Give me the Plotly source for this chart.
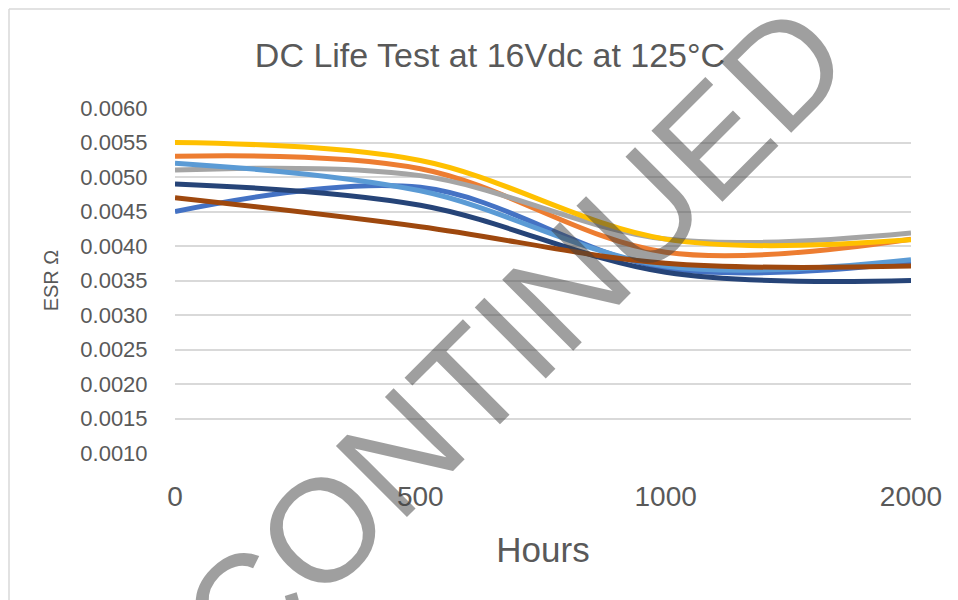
import plotly.graph_objects as go

hours = ["0", "500", "1000", "2000"]

series_blue = [0.00450, 0.00485, 0.00368, 0.00376]
series_orange = [0.00530, 0.00512, 0.00391, 0.00410]
series_gray = [0.00510, 0.00502, 0.00410, 0.00419]
series_gold = [0.00550, 0.00524, 0.00410, 0.00409]
series_lightblue = [0.00520, 0.00480, 0.00371, 0.00380]
series_darkblue = [0.00490, 0.00459, 0.00362, 0.00350]
series_brown = [0.00470, 0.00428, 0.00375, 0.00371]

series = [
    ("Sample 1", series_blue, "#4472C4"),
    ("Sample 2", series_orange, "#ED7D31"),
    ("Sample 3", series_gray, "#A5A5A5"),
    ("Sample 4", series_gold, "#FFC000"),
    ("Sample 5", series_lightblue, "#5B9BD5"),
    ("Sample 6", series_darkblue, "#264478"),
    ("Sample 7", series_brown, "#9E480E"),
]

W, H = 958, 600
OFF = 8  # page body margin offset
ML, MT = 175 - OFF, 108 - OFF
PW, PH = 736, 345
MR = W - ML - PW
MB = H - MT - PH


def px_x(p):
    return (p - OFF - ML) / PW


def px_y(p):
    return (H - MB - (p - OFF)) / PH


fig = go.Figure()
for name, vals, col in series:
    fig.add_trace(go.Scatter(
        x=hours, y=vals, name=name, mode="lines",
        line=dict(color=col, width=5, shape="spline", smoothing=1.0),
        showlegend=False,
    ))

font_family = "Liberation Sans, Arial, sans-serif"
txt_col = "#595959"
border = dict(color="#D9D9D9", width=1.5)

fig.update_layout(
    width=W, height=H,
    margin=dict(l=ML, r=MR, t=MT, b=MB),
    paper_bgcolor="white", plot_bgcolor="white",
    font=dict(family=font_family, color=txt_col),
    title=dict(text="DC Life Test at 16Vdc at 125°C", xref="container",
               x=(490 - OFF) / W, xanchor="center",
               yref="container", y=1 - (55 - OFF) / H, yanchor="middle",
               font=dict(size=34, color=txt_col, family=font_family)),
    xaxis=dict(type="category", range=[0, 3], showgrid=False, zeroline=False, showline=False,
               ticks="outside", ticklen=18, tickcolor="rgba(0,0,0,0)",
               tickfont=dict(size=28, color=txt_col),
               title=dict(text="Hours", font=dict(size=35, color=txt_col), standoff=26)),
    yaxis=dict(range=[0.001, 0.006], dtick=0.0005, tick0=0.001, tickformat=".4f",
               showgrid=True, gridcolor="#D9D9D9", gridwidth=1.5,
               zeroline=False, showline=False,
               ticks="outside", ticklen=22, tickcolor="rgba(0,0,0,0)",
               tickfont=dict(size=22, color=txt_col),
               title=dict(text="ESR Ω", font=dict(size=20, color=txt_col), standoff=16)),
    shapes=[
        dict(type="line", xref="paper", yref="paper",
             x0=px_x(OFF + 1), x1=px_x(OFF + 1), y0=px_y(H + OFF), y1=px_y(OFF + 1),
             line=border, layer="below"),
        dict(type="line", xref="paper", yref="paper",
             x0=px_x(OFF + 1), x1=px_x(W + OFF), y0=px_y(OFF + 1), y1=px_y(OFF + 1),
             line=border, layer="below"),
    ],
    annotations=[dict(text="DISCONTINUED", xref="paper", yref="paper",
                      x=px_x(428), y=px_y(424), xanchor="center", yanchor="middle",
                      textangle=-45, showarrow=False,
                      font=dict(size=146, color="rgba(64,64,64,0.5)", family=font_family))],
)

fig.write_html("out.html")
